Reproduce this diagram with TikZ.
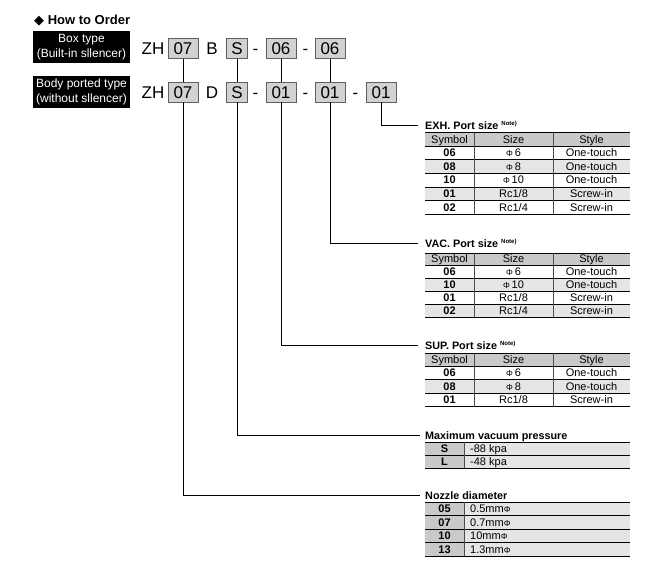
\documentclass[tikz,border=0pt]{standalone}
\usepackage{fontspec}
\setmainfont{Liberation Sans}
\newfontfamily\symfont{DejaVu Sans}
\definecolor{boxgray}{HTML}{D2D2D2}
\definecolor{edgegray}{HTML}{5F5F5F}
\definecolor{headgray}{HTML}{C9C9C9}
\definecolor{rowgray}{HTML}{E5E5E5}

\begin{document}
\begin{tikzpicture}[x=1pt, y=-1pt, every node/.style={align=center, inner sep=0pt},
  typebox/.style={fill=black, text=white, minimum width=97pt, minimum height=32pt, font=\fontsize{12}{15}\selectfont},
  codetext/.style={text height=12.2pt, text depth=0pt, font=\fontsize{17}{17}\selectfont},
  codebox/.style={codetext, draw=edgegray, line width=0.8pt, fill=boxgray, minimum width=30pt, minimum height=20pt},
  link/.style={line width=0.8pt},
  tabtitle/.style={anchor=west, text height=8pt, text depth=0pt, font=\fontsize{10.8}{11}\selectfont\bfseries},
  cell/.style={text height=7.8pt, text depth=0pt, font=\fontsize{11}{11}\selectfont},
  rule/.style={line width=0.9pt},
  thinrule/.style={line width=0.5pt},
  colrule/.style={line width=0.6pt, black!70}]

\useasboundingbox (0,0) rectangle (646,566);

% Heading and type labels
\node[anchor=west, font=\fontsize{13}{13}\selectfont\bfseries] (howto) at (34,20.5) {{\symfont ◆}\ How to Order};
\node[typebox] (boxtype) at (81.5,47) {Box type\\(Built-in sllencer)};
\node[typebox] (bodytype) at (81.5,92) {Body ported type\\(without sllencer)};

% Order code, box type
\node[codetext] (tZH) at (153,48.5) {ZH};
\node[codebox] (t07) at (183,48.5) {07};
\node[codetext] (tB) at (212,48.5) {B};
\node[codebox, minimum width=21pt] (tS) at (237,48.5) {S};
\node[codetext] (tm1) at (255.5,48.5) {-};
\node[codebox] (t06a) at (281,48.5) {06};
\node[codetext] (tm2) at (305.5,48.5) {-};
\node[codebox] (t06b) at (330,48.5) {06};

% Order code, body ported type
\node[codetext] (bZH) at (153,92) {ZH};
\node[codebox] (b07) at (183,92) {07};
\node[codetext] (bD) at (212,92) {D};
\node[codebox, minimum width=21pt] (bS) at (237,92) {S};
\node[codetext] (bm1) at (255.5,92) {-};
\node[codebox] (b01a) at (281,92) {01};
\node[codetext] (bm2) at (305.5,92) {-};
\node[codebox] (b01b) at (330,92) {01};
\node[codetext] (bm3) at (355.5,92) {-};
\node[codebox] (b01c) at (381,92) {01};

% Table titles
\node[tabtitle] (exh) at (425,125) {EXH. Port size {\fontsize{6}{6}\selectfont\raisebox{3.5pt}{Note)}}};
\node[tabtitle] (vac) at (425,243) {VAC. Port size {\fontsize{6}{6}\selectfont\raisebox{3.5pt}{Note)}}};
\node[tabtitle] (sup) at (425,345) {SUP. Port size {\fontsize{6}{6}\selectfont\raisebox{3.5pt}{Note)}}};
\node[tabtitle] (maxvac) at (425,435) {Maximum vacuum pressure};
\node[tabtitle] (nozzle) at (425,495) {Nozzle diameter};

% Connectors
\draw[link] (t07) -- (b07);
\draw[link] (tS) -- (bS);
\draw[link] (t06a) -- (b01a);
\draw[link] (t06b) -- (b01b);
\draw[link] (b01c.south) |- ([xshift=-7pt]exh.west);
\draw[link] (b01b.south) |- ([xshift=-7pt]vac.west);
\draw[link] (b01a.south) |- ([xshift=-7pt]sup.west);
\draw[link] (bS.south) |- ([xshift=-5pt]maxvac.west);
\draw[link] (b07.south) |- ([xshift=-5pt]nozzle.west);

% EXH. port size table
\fill[headgray] (425,132.5) rectangle (630,146);
\foreach \i in {2,4} \fill[rowgray] (425,{146+(\i-1)*13.6}) rectangle (630,{146+\i*13.6});
\draw[rule] (425,132.5) -- (630,132.5);
\draw[thinrule] (425,146) -- (630,146);
\foreach \i in {1,...,4} \draw[thinrule] (425,{146+\i*13.6}) -- (630,{146+\i*13.6});
\draw[rule] (425,214) -- (630,214);
\draw[colrule] (474,132.5) -- (474,214) (553,132.5) -- (553,214);
\node[cell] (exh-h1) at (449.5,139.25) {Symbol};
\node[cell] (exh-h2) at (513.5,139.25) {Size};
\node[cell] (exh-h3) at (591.5,139.25) {Style};
\foreach \s/\z/\t [count=\i] in {06/{{\fontsize{8.5}{8.5}\selectfont Φ}\,6}/One-touch, 08/{{\fontsize{8.5}{8.5}\selectfont Φ}\,8}/One-touch, 10/{{\fontsize{8.5}{8.5}\selectfont Φ}\,10}/One-touch, 01/{Rc1/8}/Screw-in, 02/{Rc1/4}/Screw-in}{
  \node[cell] (exh-s\i) at (449.5,{146+(\i-0.5)*13.6}) {\bfseries\s};
  \node[cell] (exh-z\i) at (513.5,{146+(\i-0.5)*13.6}) {\z};
  \node[cell] (exh-t\i) at (591.5,{146+(\i-0.5)*13.6}) {\t};
}

% VAC. port size table
\fill[headgray] (425,253) rectangle (630,265);
\foreach \i in {2,4} \fill[rowgray] (425,{265+(\i-1)*13}) rectangle (630,{265+\i*13});
\draw[rule] (425,253) -- (630,253);
\draw[thinrule] (425,265) -- (630,265);
\foreach \i in {1,...,3} \draw[thinrule] (425,{265+\i*13}) -- (630,{265+\i*13});
\draw[rule] (425,317) -- (630,317);
\draw[colrule] (474,253) -- (474,317) (553,253) -- (553,317);
\node[cell] (vac-h1) at (449.5,259) {Symbol};
\node[cell] (vac-h2) at (513.5,259) {Size};
\node[cell] (vac-h3) at (591.5,259) {Style};
\foreach \s/\z/\t [count=\i] in {06/{{\fontsize{8.5}{8.5}\selectfont Φ}\,6}/One-touch, 10/{{\fontsize{8.5}{8.5}\selectfont Φ}\,10}/One-touch, 01/{Rc1/8}/Screw-in, 02/{Rc1/4}/Screw-in}{
  \node[cell] (vac-s\i) at (449.5,{265+(\i-0.5)*13}) {\bfseries\s};
  \node[cell] (vac-z\i) at (513.5,{265+(\i-0.5)*13}) {\z};
  \node[cell] (vac-t\i) at (591.5,{265+(\i-0.5)*13}) {\t};
}

% SUP. port size table
\fill[headgray] (425,353) rectangle (630,366);
\fill[rowgray] (425,379.5) rectangle (630,393);
\draw[rule] (425,353) -- (630,353);
\draw[thinrule] (425,366) -- (630,366);
\foreach \i in {1,2} \draw[thinrule] (425,{366+\i*13.5}) -- (630,{366+\i*13.5});
\draw[rule] (425,406.5) -- (630,406.5);
\draw[colrule] (474,353) -- (474,406.5) (553,353) -- (553,406.5);
\node[cell] (sup-h1) at (449.5,359.5) {Symbol};
\node[cell] (sup-h2) at (513.5,359.5) {Size};
\node[cell] (sup-h3) at (591.5,359.5) {Style};
\foreach \s/\z/\t [count=\i] in {06/{{\fontsize{8.5}{8.5}\selectfont Φ}\,6}/One-touch, 08/{{\fontsize{8.5}{8.5}\selectfont Φ}\,8}/One-touch, 01/{Rc1/8}/Screw-in}{
  \node[cell] (sup-s\i) at (449.5,{366+(\i-0.5)*13.5}) {\bfseries\s};
  \node[cell] (sup-z\i) at (513.5,{366+(\i-0.5)*13.5}) {\z};
  \node[cell] (sup-t\i) at (591.5,{366+(\i-0.5)*13.5}) {\t};
}

% Maximum vacuum pressure table
\fill[headgray] (425,442) rectangle (464,468);
\fill[rowgray] (464,442) rectangle (630,468);
\draw[rule] (425,442) -- (630,442);
\draw[thinrule] (425,455) -- (630,455);
\draw[rule] (425,468) -- (630,468);
\draw[colrule] (464,442) -- (464,468);
\foreach \s/\v [count=\i] in {S/-88 kpa, L/-48 kpa}{
  \node[cell] (maxvac-s\i) at (444.5,{442+(\i-0.5)*13}) {\bfseries\s};
  \node[cell, anchor=west] (maxvac-v\i) at (470,{442+(\i-0.5)*13}) {\v};
}

% Nozzle diameter table
\fill[headgray] (425,502) rectangle (464,556);
\fill[rowgray] (464,502) rectangle (630,556);
\draw[rule] (425,502) -- (630,502);
\foreach \i in {1,...,3} \draw[thinrule] (425,{502+\i*13.5}) -- (630,{502+\i*13.5});
\draw[rule] (425,556) -- (630,556);
\draw[colrule] (464,502) -- (464,556);
\foreach \s/\v [count=\i] in {05/{0.5mm{\fontsize{8.5}{8.5}\selectfont Φ}}, 07/{0.7mm{\fontsize{8.5}{8.5}\selectfont Φ}}, 10/{10mm{\fontsize{8.5}{8.5}\selectfont Φ}}, 13/{1.3mm{\fontsize{8.5}{8.5}\selectfont Φ}}}{
  \node[cell] (nozzle-s\i) at (444.5,{502+(\i-0.5)*13.5}) {\bfseries\s};
  \node[cell, anchor=west] (nozzle-v\i) at (470,{502+(\i-0.5)*13.5}) {\v};
}
\end{tikzpicture}
\end{document}
